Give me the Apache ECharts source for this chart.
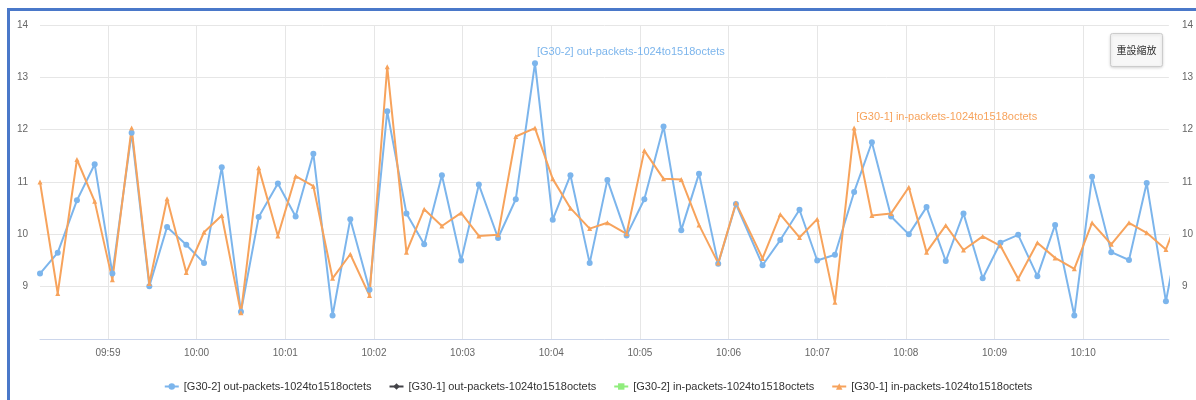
<!DOCTYPE html>
<html>
<head>
<meta charset="utf-8">
<title>Packets 1024to1518 octets</title>
<script src="https://cdn.jsdelivr.net/npm/echarts@6/dist/echarts.min.js"></script>
<style>
  html, body { margin: 0; padding: 0; background: #ffffff; }
  #wrap { position: relative; width: 1196px; height: 400px; overflow: hidden; }
  #chart { position: absolute; left: 0; top: 0; width: 1196px; height: 400px; }
  #frame {
    position: absolute; left: 7px; top: 8px; width: 1196px; height: 400px;
    border-left: 3px solid #4a78c9; border-top: 3px solid #4a78c9;
    box-sizing: border-box; pointer-events: none;
  }
</style>
</head>
<body>
<div id="wrap">
  <div id="chart"></div>
  <div id="frame"></div>
</div>
<script>
// Sample times (HH:MM:SS) on the capture day
const sampleDay = '2019-05-20';
const sampleTimes = [
  '09:58:14','09:58:26','09:58:39','09:58:51','09:59:03','09:59:16','09:59:28','09:59:40',
  '09:59:53','10:00:05','10:00:17','10:00:30','10:00:42','10:00:55','10:01:07','10:01:19',
  '10:01:32','10:01:44','10:01:57','10:02:09','10:02:22','10:02:34','10:02:46','10:02:59',
  '10:03:11','10:03:24','10:03:36','10:03:49','10:04:01','10:04:13','10:04:26','10:04:38',
  '10:04:51','10:05:03','10:05:16','10:05:28','10:05:40','10:05:53','10:06:05','10:06:23',
  '10:06:35','10:06:48','10:07:00','10:07:12','10:07:25','10:07:37','10:07:50','10:08:02',
  '10:08:14','10:08:27','10:08:39','10:08:52','10:09:04','10:09:16','10:09:29','10:09:41',
  '10:09:54','10:10:06','10:10:19','10:10:31','10:10:43','10:10:56','10:11:08'
];

// [G30-2] out-packets-1024to1518octets
const g302Out = [
  9.25, 9.65, 10.65, 11.34, 9.25, 11.94, 9.01, 10.14,
  9.80, 9.45, 11.28, 8.52, 10.33, 10.97, 10.34, 11.54,
  8.45, 10.29, 8.94, 12.35, 10.40, 9.81, 11.13, 9.50,
  10.95, 9.93, 10.67, 13.27, 10.28, 11.13, 9.45, 11.04,
  9.98, 10.67, 12.06, 10.08, 11.16, 9.44, 10.58, 9.41,
  9.89, 10.47, 9.50, 9.61, 10.81, 11.76, 10.34, 10.00,
  10.52, 9.49, 10.40, 9.16, 9.84, 9.99, 9.20, 10.18,
  8.45, 11.10, 9.66, 9.51, 10.98, 8.72, 10.50
];

// [G30-1] in-packets-1024to1518octets
const g301In = [
  11.00, 8.87, 11.43, 10.63, 9.13, 12.03, 9.06, 10.68,
  9.27, 10.04, 10.36, 8.50, 11.27, 9.97, 11.11, 10.92,
  9.16, 9.62, 8.83, 13.20, 9.66, 10.48, 10.16, 10.41,
  9.97, 9.99, 11.87, 12.03, 11.06, 10.50, 10.11, 10.22,
  10.01, 11.60, 11.06, 11.05, 10.18, 9.45, 10.60, 9.54,
  10.38, 9.94, 10.29, 8.70, 12.03, 10.36, 10.40, 10.90,
  9.66, 10.17, 9.70, 9.96, 9.78, 9.15, 9.84, 9.55,
  9.34, 10.22, 9.81, 10.22, 10.03, 9.71, 10.60
];

// No samples in this window for these two
const g301Out = [];
const g302In = [];

const seriesNames = [
  '[G30-2] out-packets-1024to1518octets',
  '[G30-1] out-packets-1024to1518octets',
  '[G30-2] in-packets-1024to1518octets',
  '[G30-1] in-packets-1024to1518octets'
];
const seriesColors = ['#7cb5ec', '#434348', '#90ed7d', '#f7a35c'];
const seriesSymbols = ['circle', 'diamond', 'rect', 'triangle'];
const seriesSymbolSizes = [6, 6, 6, 5];

// Visible window of the zoomed time axis
const viewStart = '09:58:14';
const viewEnd = '10:10:58';
const yTicks = { min: 8, max: 14, interval: 1 };

// Sample index that carries the series name
const nameLabelIndex = [27, null, null, 44];

const FONT = '"Liberation Sans", Arial, sans-serif';

function stamp(t) { return sampleDay + ' ' + t; }

function buildData(values, labelIdx, color) {
  return values.map(function (v, i) {
    const item = { value: [stamp(sampleTimes[i]), v] };
    if (i === labelIdx) {
      item.label = {
        show: true,
        position: 'top',
        distance: 3,
        align: 'left',
        offset: [2, 0],
        color: color,
        fontSize: 11,
        fontFamily: FONT,
        formatter: '{a}'
      };
    }
    return item;
  });
}

const allValues = [g302Out, g301Out, g302In, g301In];

const chart = echarts.init(document.getElementById('chart'), null, { renderer: 'canvas' });

chart.setOption({
  animation: false,
  color: seriesColors,
  textStyle: { fontFamily: FONT },
  grid: { left: 40, right: 27, top: 25, bottom: 61, containLabel: false },
  legend: {
    data: seriesNames,
    left: 'center',
    top: 376,
    itemWidth: 14,
    itemHeight: 8,
    itemGap: 17,
    textStyle: { color: '#333333', fontSize: 11, fontFamily: FONT }
  },
  xAxis: {
    type: 'time',
    min: stamp(viewStart),
    max: stamp(viewEnd),
    minInterval: 60000,
    maxInterval: 60000,
    axisLine: { show: true, lineStyle: { color: '#ccd6eb', width: 1 } },
    axisTick: { show: false },
    axisLabel: {
      color: '#666666',
      fontSize: 10,
      fontFamily: FONT,
      margin: 9,
      showMinLabel: false,
      showMaxLabel: false,
      formatter: function (value) {
        return echarts.time.format(value, '{HH}:{mm}', false);
      }
    },
    splitLine: {
      show: true,
      showMinLine: false,
      showMaxLine: false,
      lineStyle: { color: '#e6e6e6', width: 1 }
    }
  },
  yAxis: [
    {
      type: 'value',
      position: 'left',
      min: yTicks.min, max: yTicks.max, interval: yTicks.interval,
      axisLine: { show: false },
      axisTick: { show: false },
      axisLabel: { color: '#666666', fontSize: 10, fontFamily: FONT, margin: 12, showMinLabel: false },
      splitLine: { show: true, lineStyle: { color: '#e6e6e6', width: 1 } }
    },
    {
      type: 'value',
      position: 'right',
      min: yTicks.min, max: yTicks.max, interval: yTicks.interval,
      axisLine: { show: false },
      axisTick: { show: false },
      axisLabel: { color: '#666666', fontSize: 10, fontFamily: FONT, margin: 13, showMinLabel: false },
      splitLine: { show: false }
    }
  ],
  series: seriesNames.map(function (name, k) {
    return {
      name: name,
      type: 'line',
      yAxisIndex: 0,
      clip: true,
      symbol: seriesSymbols[k],
      symbolSize: seriesSymbolSizes[k],
      showAllSymbol: true,
      lineStyle: { width: 2, color: seriesColors[k] },
      itemStyle: { color: seriesColors[k] },
      emphasis: { disabled: true },
      data: buildData(allValues[k], nameLabelIndex[k], seriesColors[k])
    };
  }),
  graphic: [
    {
      type: 'group',
      left: 1110,
      top: 33,
      children: [
        {
          type: 'rect',
          shape: { x: 0, y: 0, width: 52, height: 33, r: 2 },
          style: {
            fill: '#f7f7f7', stroke: '#cccccc', lineWidth: 1,
            shadowBlur: 3, shadowColor: 'rgba(0,0,0,0.15)', shadowOffsetY: 1
          }
        },
        {
          type: 'text',
          x: 26, y: 16.5,
          style: {
            text: '重設縮放',
            fill: '#333333',
            fontSize: 10,
            fontFamily: '"Noto Sans CJK TC", sans-serif',
            align: 'center',
            verticalAlign: 'middle'
          }
        }
      ]
    }
  ]
});
</script>
</body>
</html>
